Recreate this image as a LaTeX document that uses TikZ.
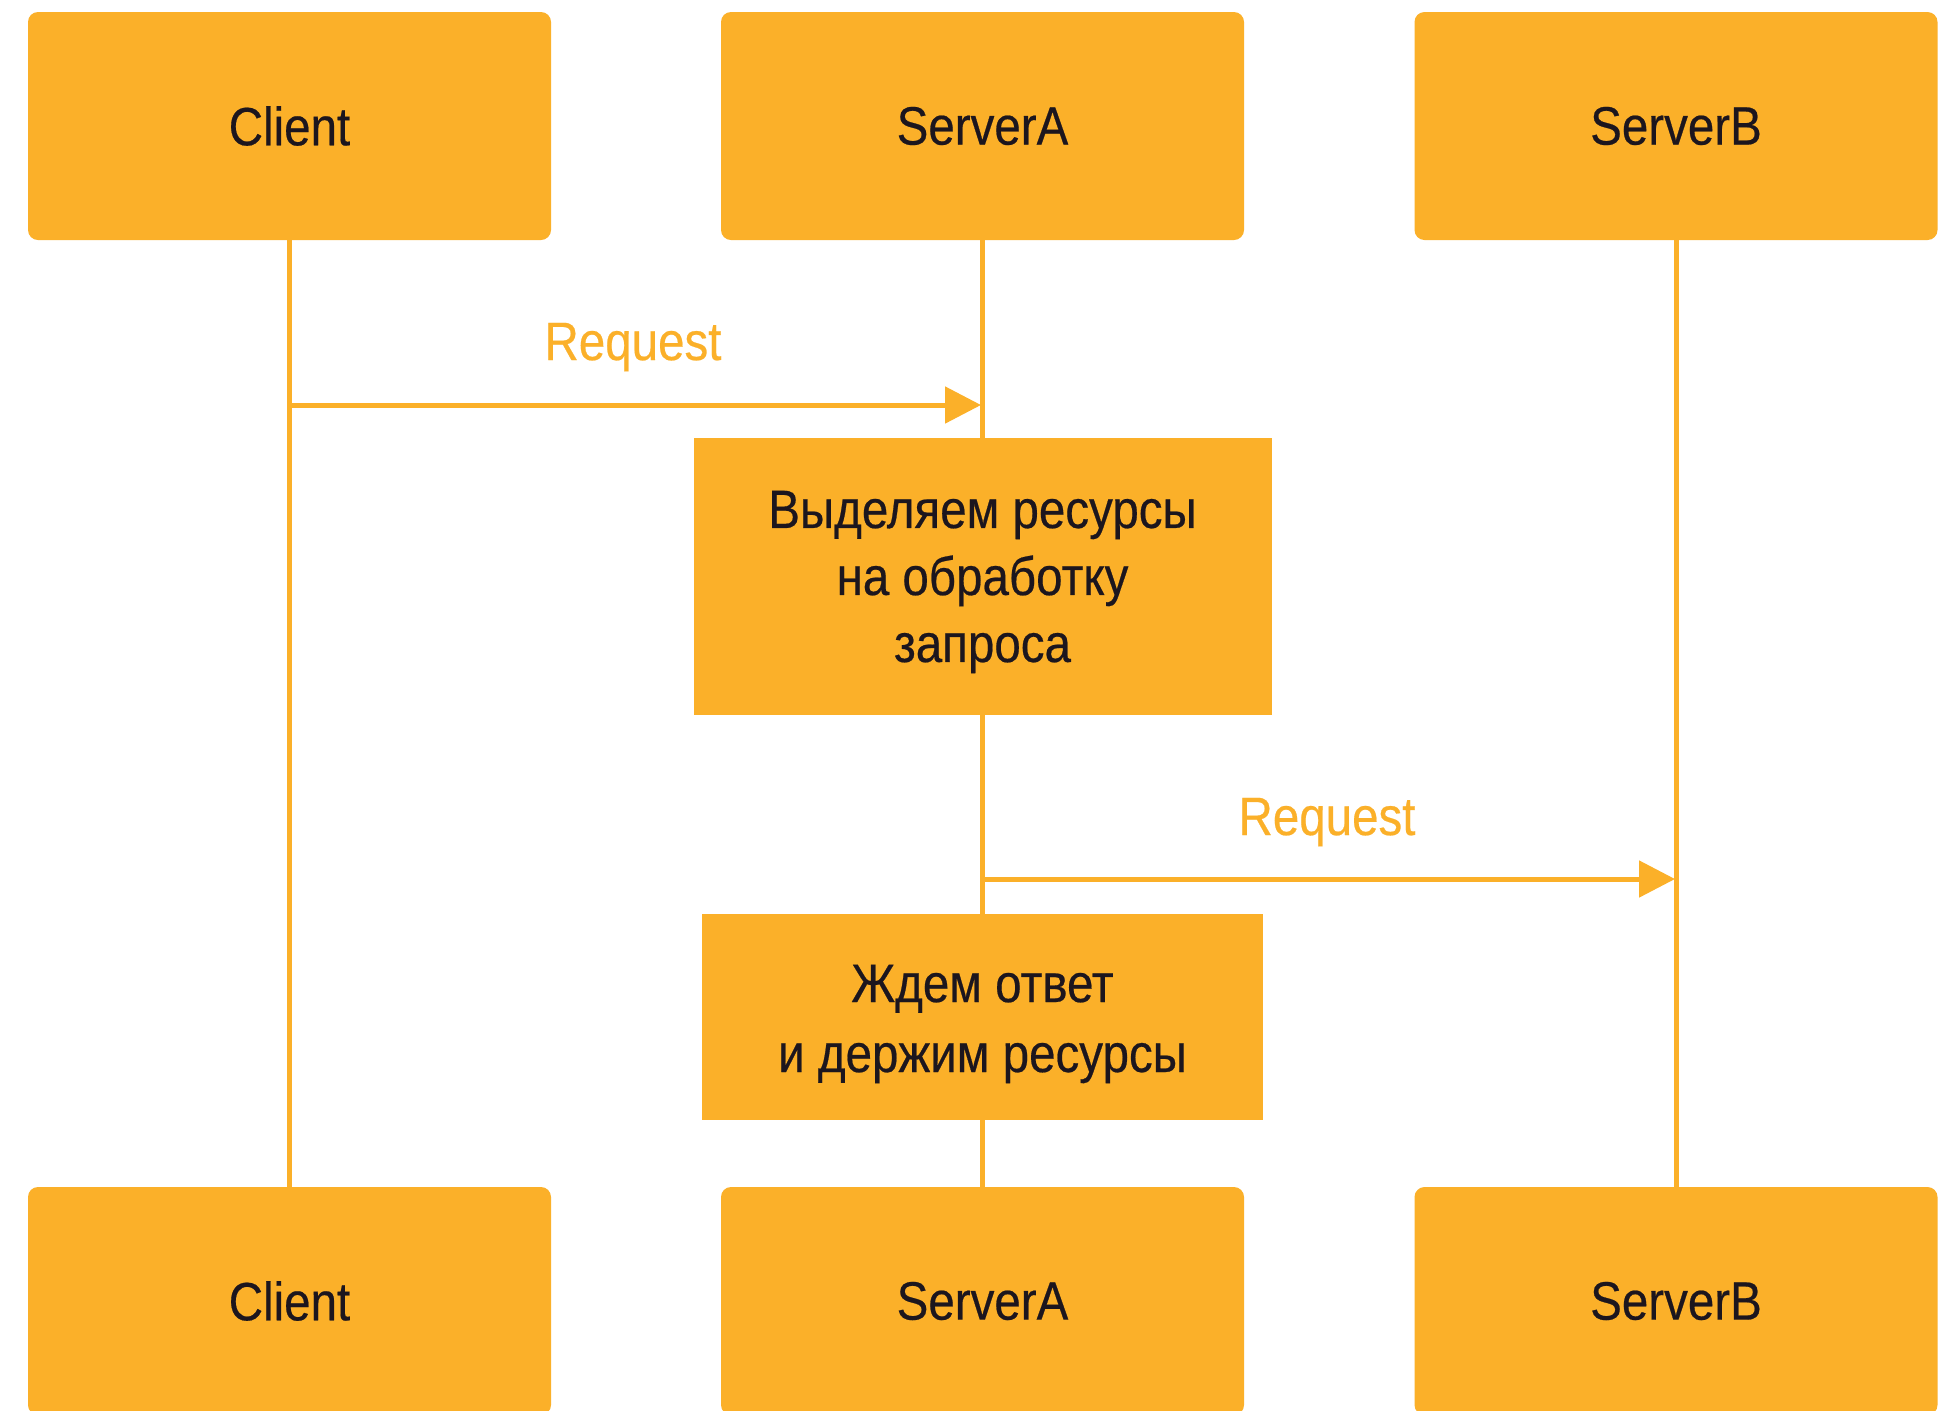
\documentclass[tikz,border=0pt]{standalone}
\usepackage{fontspec}
\setmainfont{Liberation Sans}[FakeStretch=0.88,FakeBold=0.4]
\usetikzlibrary{arrows.meta}
\definecolor{amber}{RGB}{251,176,41}
\definecolor{ink}{RGB}{28,22,30}
\tikzset{
  actor/.style={fill=amber, draw=none, rounded corners=5pt, inner sep=0pt,
    minimum width=261.5pt, minimum height=114pt, text=ink,
    font=\fontsize{27}{32}\selectfont},
  activity/.style={fill=amber, draw=none, inner sep=0pt},
  activitytext/.style={text=ink, align=center, inner sep=0pt},
  lifeline/.style={draw=amber, line width=2.5pt},
  message/.style={draw=amber, line width=2.5pt, -{Triangle[length=18pt,width=18pt]}},
  msglabel/.style={text=amber, font=\fontsize{27}{32}\selectfont, anchor=base, inner sep=0pt}
}
\begin{document}
\begin{tikzpicture}[x=0.5pt,y=-0.5pt]
\useasboundingbox (0,0) rectangle (1946,1410);
\clip (0,0) rectangle (1946,1410);
\fill[white] (0,0) rectangle (1946,1410);

% lifelines (drawn first, boxes sit on top)
\draw[lifeline] (289.5,240) -- (289.5,1190);
\draw[lifeline] (982.5,240) -- (982.5,1190);
\draw[lifeline] (1676,240) -- (1676,1190);

% actors on top
\node[actor] (clientT)  at (289.5,126) {Client};
\node[actor] (serverAT) at (982.5,126) {ServerA};
\node[actor] (serverBT) at (1676,126)  {ServerB};

% actors at the bottom
\node[actor] (clientB)  at (289.5,1301) {Client};
\node[actor] (serverAB) at (982.5,1301) {ServerA};
\node[actor] (serverBB) at (1676,1301)  {ServerB};

% activity boxes on ServerA
\node[activity, minimum width=289pt, minimum height=138.5pt] (alloc) at (982.5,576.5) {};
\node[activitytext, font=\fontsize{27}{33.5}\selectfont] (allocText) at (982.5,582)
  {Выделяем ресурсы\\на обработку\\запроса};
\node[activity, minimum width=280.5pt, minimum height=103pt] (wait) at (982.5,1016.5) {};
\node[activitytext, font=\fontsize{27}{35}\selectfont] (waitText) at (982.5,1024)
  {Ждем ответ\\и держим ресурсы};

% messages
\coordinate (m1s) at (289.5,405);
\coordinate (m1e) at (981,405);
\coordinate (m2s) at (982.5,879);
\coordinate (m2e) at (1675,879);
\draw[message] (m1s) -- (m1e);
\draw[message] (m2s) -- (m2e);
\node[msglabel] (lab1) at (633,360) {Request};
\node[msglabel] (lab2) at (1327,835) {Request};
\end{tikzpicture}
\end{document}
